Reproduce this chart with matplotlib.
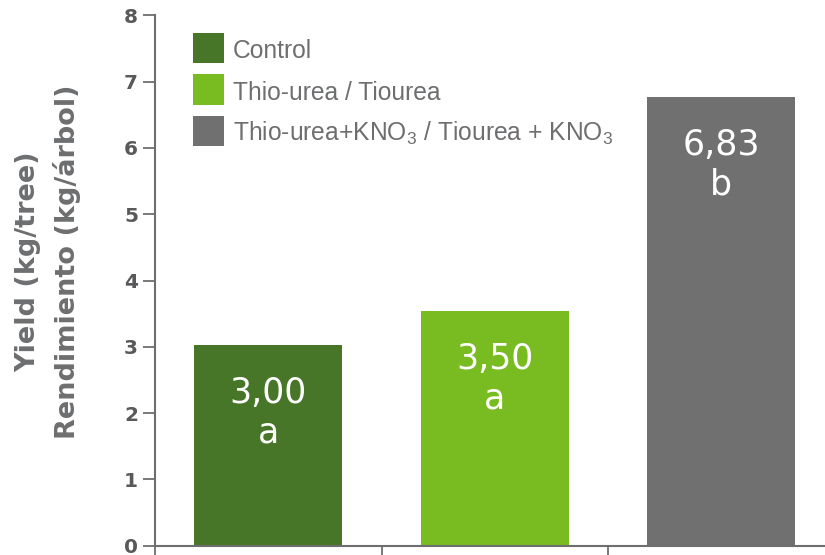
import matplotlib
matplotlib.use("Agg")
import matplotlib.pyplot as plt
from matplotlib.patches import Rectangle

# ---- data ----
categories = ["Control", "Thio-urea / Tiourea", "Thio-urea+KNO$_3$ / Tiourea + KNO$_3$"]
values = [3.03, 3.54, 6.77]
value_labels = ["3,00", "3,50", "6,83"]
letters = ["a", "a", "b"]
colors = ["#487628", "#78bc21", "#6f706f"]
yticks = [0, 1, 2, 3, 4, 5, 6, 7, 8]

AXC = "#6d6e70"
TXT = "#58595b"
plt.rcParams["mathtext.default"] = "regular"

fig = plt.figure(figsize=(8.25, 5.55), dpi=100)
W, H = 825, 555
ax = fig.add_axes([155 / W, 9.3 / H, 1 - 155 / W, (545.7 - 15.3) / H])

x = list(range(len(values)))
bars = ax.bar(x, values, width=0.653, color=colors, zorder=2)

ax.set_ylim(0, 8)
ax.set_xlim(-0.5, 2.458)
ax.set_yticks(yticks)
ax.set_yticklabels([str(t) for t in yticks], fontsize=14.5, fontweight="bold",
                   color=TXT, family="DejaVu Sans")
ax.set_xticks([-0.5, 0.5, 1.5])
ax.set_xticklabels([])
ax.tick_params(axis="y", length=8.6, width=1.3, color=AXC, pad=3.6)
ax.tick_params(axis="x", length=6.5, width=1.3, color=AXC)
for s in ["top", "right"]:
    ax.spines[s].set_visible(False)
for s in ["left", "bottom"]:
    ax.spines[s].set_color(AXC)
    ax.spines[s].set_linewidth(1.5)

for xi, v, lab, let in zip(x, values, value_labels, letters):
    ax.annotate(lab, (xi, v), xytext=(0, -58), textcoords="offset pixels",
                ha="center", va="baseline", color="white", fontsize=25,
                family="DejaVu Sans")
    ax.annotate(let, (xi, v), xytext=(0, -98), textcoords="offset pixels",
                ha="center", va="baseline", color="white", fontsize=25,
                family="DejaVu Sans")

fig.text(48 / W, 1 - 262 / H, "Yield (kg/tree)\nRendimiento (kg/árbol)",
         rotation=90, ha="center", va="center", multialignment="center",
         fontsize=19.5, fontweight="bold", color=AXC, linespacing=1.55,
         family="DejaVu Sans")

# ---- legend (manual, pixel layout) ----
for i, (cat, c) in enumerate(zip(categories, colors)):
    ytop = 33 + 41.3 * i
    fig.patches.append(Rectangle((193 / W, 1 - (ytop + 30.5) / H), 31 / W, 30.5 / H,
                                 transform=fig.transFigure, facecolor=c,
                                 edgecolor="none"))
    fig.text(233 / W, 1 - (ytop + 25.5) / H, cat, ha="left", va="baseline",
             fontsize=17.7, color=AXC, family="Liberation Sans")

fig.savefig("out.png", dpi=100)
